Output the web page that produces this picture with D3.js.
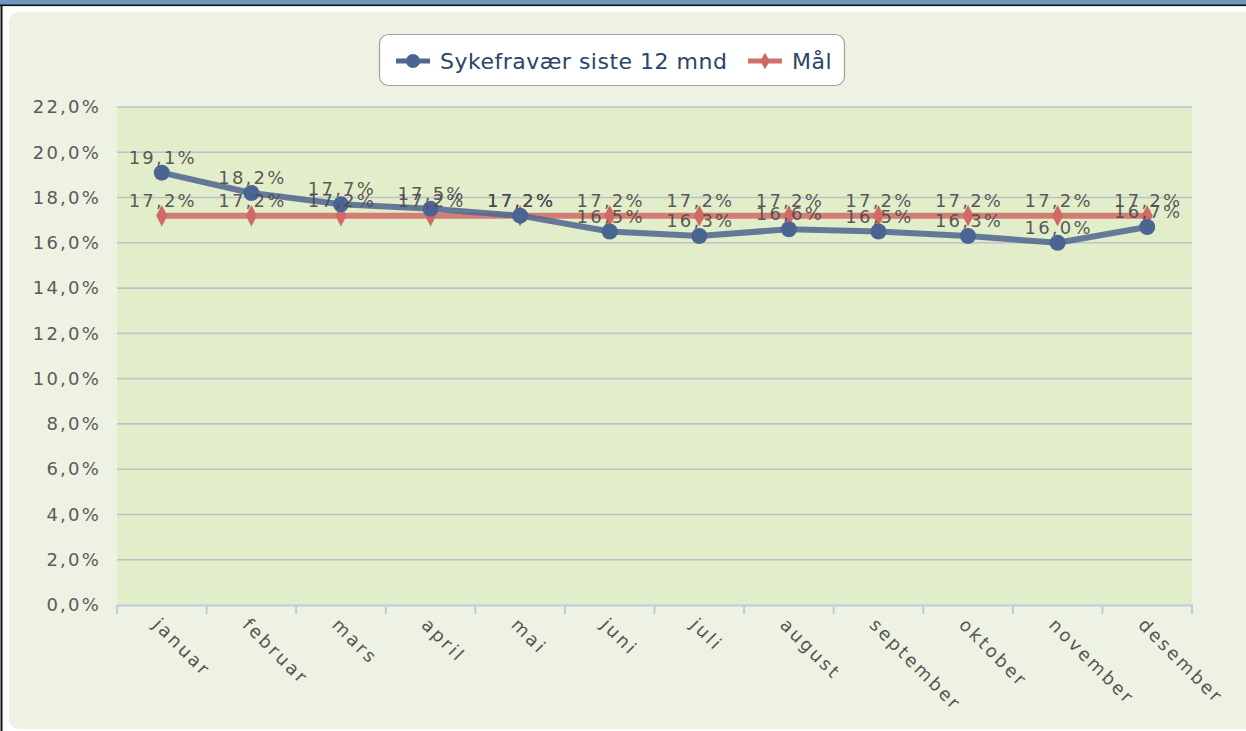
<!DOCTYPE html>
<html><head><meta charset="utf-8">
<script src="https://cdn.jsdelivr.net/npm/d3@7"></script>
<style>html,body{margin:0;padding:0;background:#fff;overflow:hidden}</style>
</head><body>
<svg id="chart" width="1246" height="731"></svg>
<script>
const months = ["januar","februar","mars","april","mai","juni","juli","august","september","oktober","november","desember"];
const sykefravaer = [19.1,18.2,17.7,17.5,17.2,16.5,16.3,16.6,16.5,16.3,16.0,16.7];
const maal = [17.2,17.2,17.2,17.2,17.2,17.2,17.2,17.2,17.2,17.2,17.2,17.2];
const yTicks = [0,2,4,6,8,10,12,14,16,18,20,22];
const seriesNames = ["Sykefravær siste 12 mnd","Mål"];

const svg = d3.select("#chart");
const fmt = v => d3.format(".1f")(v).replace(".", ",") + "%";
const FONT = "DejaVu Sans, Verdana, sans-serif";

// frame
svg.append("rect").attr("x",0).attr("y",0).attr("width",1246).attr("height",5).attr("fill","#7098c0");
svg.append("rect").attr("x",0).attr("y",4.5).attr("width",1246).attr("height",1.6).attr("fill","#111");
svg.append("rect").attr("x",0.5).attr("y",5).attr("width",2).attr("height",726).attr("fill","#111");
svg.append("rect").attr("x",9).attr("y",12).attr("width",1260).attr("height",717).attr("rx",10)
  .attr("fill","#eef2e3");

const m = {left:117, right:1192, top:107, bottom:605};
const x = d3.scaleBand().domain(months).range([m.left, m.right]);
const y = d3.scaleLinear().domain([0,22]).range([m.bottom, m.top]);

// plot background
svg.append("rect").attr("x",m.left).attr("y",m.top).attr("width",m.right-m.left).attr("height",m.bottom-m.top)
  .attr("fill","#e2edca");

// grid
svg.append("g").selectAll("line").data(yTicks.filter(d=>d>0)).join("line")
  .attr("x1",m.left).attr("x2",m.right).attr("y1",d=>y(d)).attr("y2",d=>y(d))
  .attr("stroke","#bfc0cc").attr("stroke-width",1.6);

// y axis labels
const yAxis = d3.axisLeft(y).tickValues(yTicks).tickFormat(fmt).tickSize(0).tickPadding(16);
const ya = svg.append("g").attr("transform",`translate(${m.left},0)`).call(yAxis);
ya.select(".domain").remove();
ya.selectAll("text").attr("font-family",FONT).attr("font-size",18).attr("fill","#5a5a5a")
  .attr("letter-spacing",2.2);

// x axis
const xAxis = d3.axisBottom(x).tickSize(0).tickFormat("");
const xa = svg.append("g").attr("transform",`translate(0,${m.bottom})`).call(xAxis);
xa.select(".domain").attr("stroke","#b9cde2").attr("stroke-width",2);
const bounds = months.map(mo=>x(mo)).concat([m.right]);
xa.selectAll(".bt").data(bounds).join("line").attr("class","bt")
  .attr("x1",d=>d).attr("x2",d=>d).attr("y1",0).attr("y2",9)
  .attr("stroke","#b9cde2").attr("stroke-width",2);
xa.selectAll(".xl").data(months).join("text").attr("class","xl")
  .attr("text-anchor","start")
  .attr("transform",d=>`translate(${x(d)+x.bandwidth()/2-10},${21}) rotate(45)`)
  .attr("font-family",FONT).attr("font-size",18).attr("fill","#555").attr("letter-spacing",2.6)
  .text(d=>d);

const cx = d => x(d)+x.bandwidth()/2;

// Mål series
const lineGen = d3.line().x(d=>cx(d.m)).y(d=>y(d.v));
const maalData = months.map((mo,i)=>({m:mo,v:maal[i]}));
const sykData = months.map((mo,i)=>({m:mo,v:sykefravaer[i]}));

svg.append("path").datum(maalData).attr("d",lineGen).attr("fill","none")
  .attr("stroke","#d2706c").attr("stroke-width",6).attr("opacity",0.9);
svg.append("g").selectAll("path").data(maalData).join("path")
  .attr("d",d3.symbol(d3.symbolDiamond,110))
  .attr("transform",d=>`translate(${cx(d.m)},${y(d.v)}) scale(1,1.1)`)
  .attr("fill","#cf6a66");

// Sykefravær series
svg.append("path").datum(sykData).attr("d",lineGen).attr("fill","none")
  .attr("stroke","#52698f").attr("stroke-width",6).attr("opacity",0.88).attr("stroke-linejoin","round");
svg.append("g").selectAll("circle").data(sykData).join("circle")
  .attr("cx",d=>cx(d.m)).attr("cy",d=>y(d.v)).attr("r",8).attr("fill","#4a6591");

// data labels
function labels(data){
  svg.append("g").selectAll("text").data(data).join("text")
    .attr("x",d=>cx(d.m)+1).attr("y",d=>y(d.v)-9).attr("text-anchor","middle")
    .attr("font-family",FONT).attr("font-size",18).attr("fill","#4a4a4a").attr("fill-opacity",0.92)
    .attr("letter-spacing",2.2)
    .text(d=>fmt(d.v));
}
labels(maalData);
labels(sykData);

// legend
const lg = svg.append("g");
lg.append("rect").attr("x",379.5).attr("y",34.5).attr("width",465).attr("height",51).attr("rx",9)
  .attr("fill","#fff").attr("stroke","#a0a0a0").attr("stroke-width",1.2);
const legendItems = [
  {name:seriesNames[0], x:396, color:"#52698f", mk:"circle"},
  {name:seriesNames[1], x:748, color:"#d2706c", mk:"diamond"}
];
legendItems.forEach(it=>{
  lg.append("line").attr("x1",it.x).attr("x2",it.x+34).attr("y1",61).attr("y2",61)
    .attr("stroke",it.color).attr("stroke-width",5);
  if(it.mk==="circle") lg.append("circle").attr("cx",it.x+17).attr("cy",61).attr("r",7).attr("fill","#4a6591");
  else lg.append("path").attr("d",d3.symbol(d3.symbolDiamond,80)).attr("transform",`translate(${it.x+17},61)`).attr("fill","#cf6a66");
  lg.append("text").attr("x",it.x+44).attr("y",69).attr("font-family",FONT).attr("font-size",22)
    .attr("fill","#2b4468").attr("letter-spacing",0.5).text(it.name);
});
</script>
</body></html>
